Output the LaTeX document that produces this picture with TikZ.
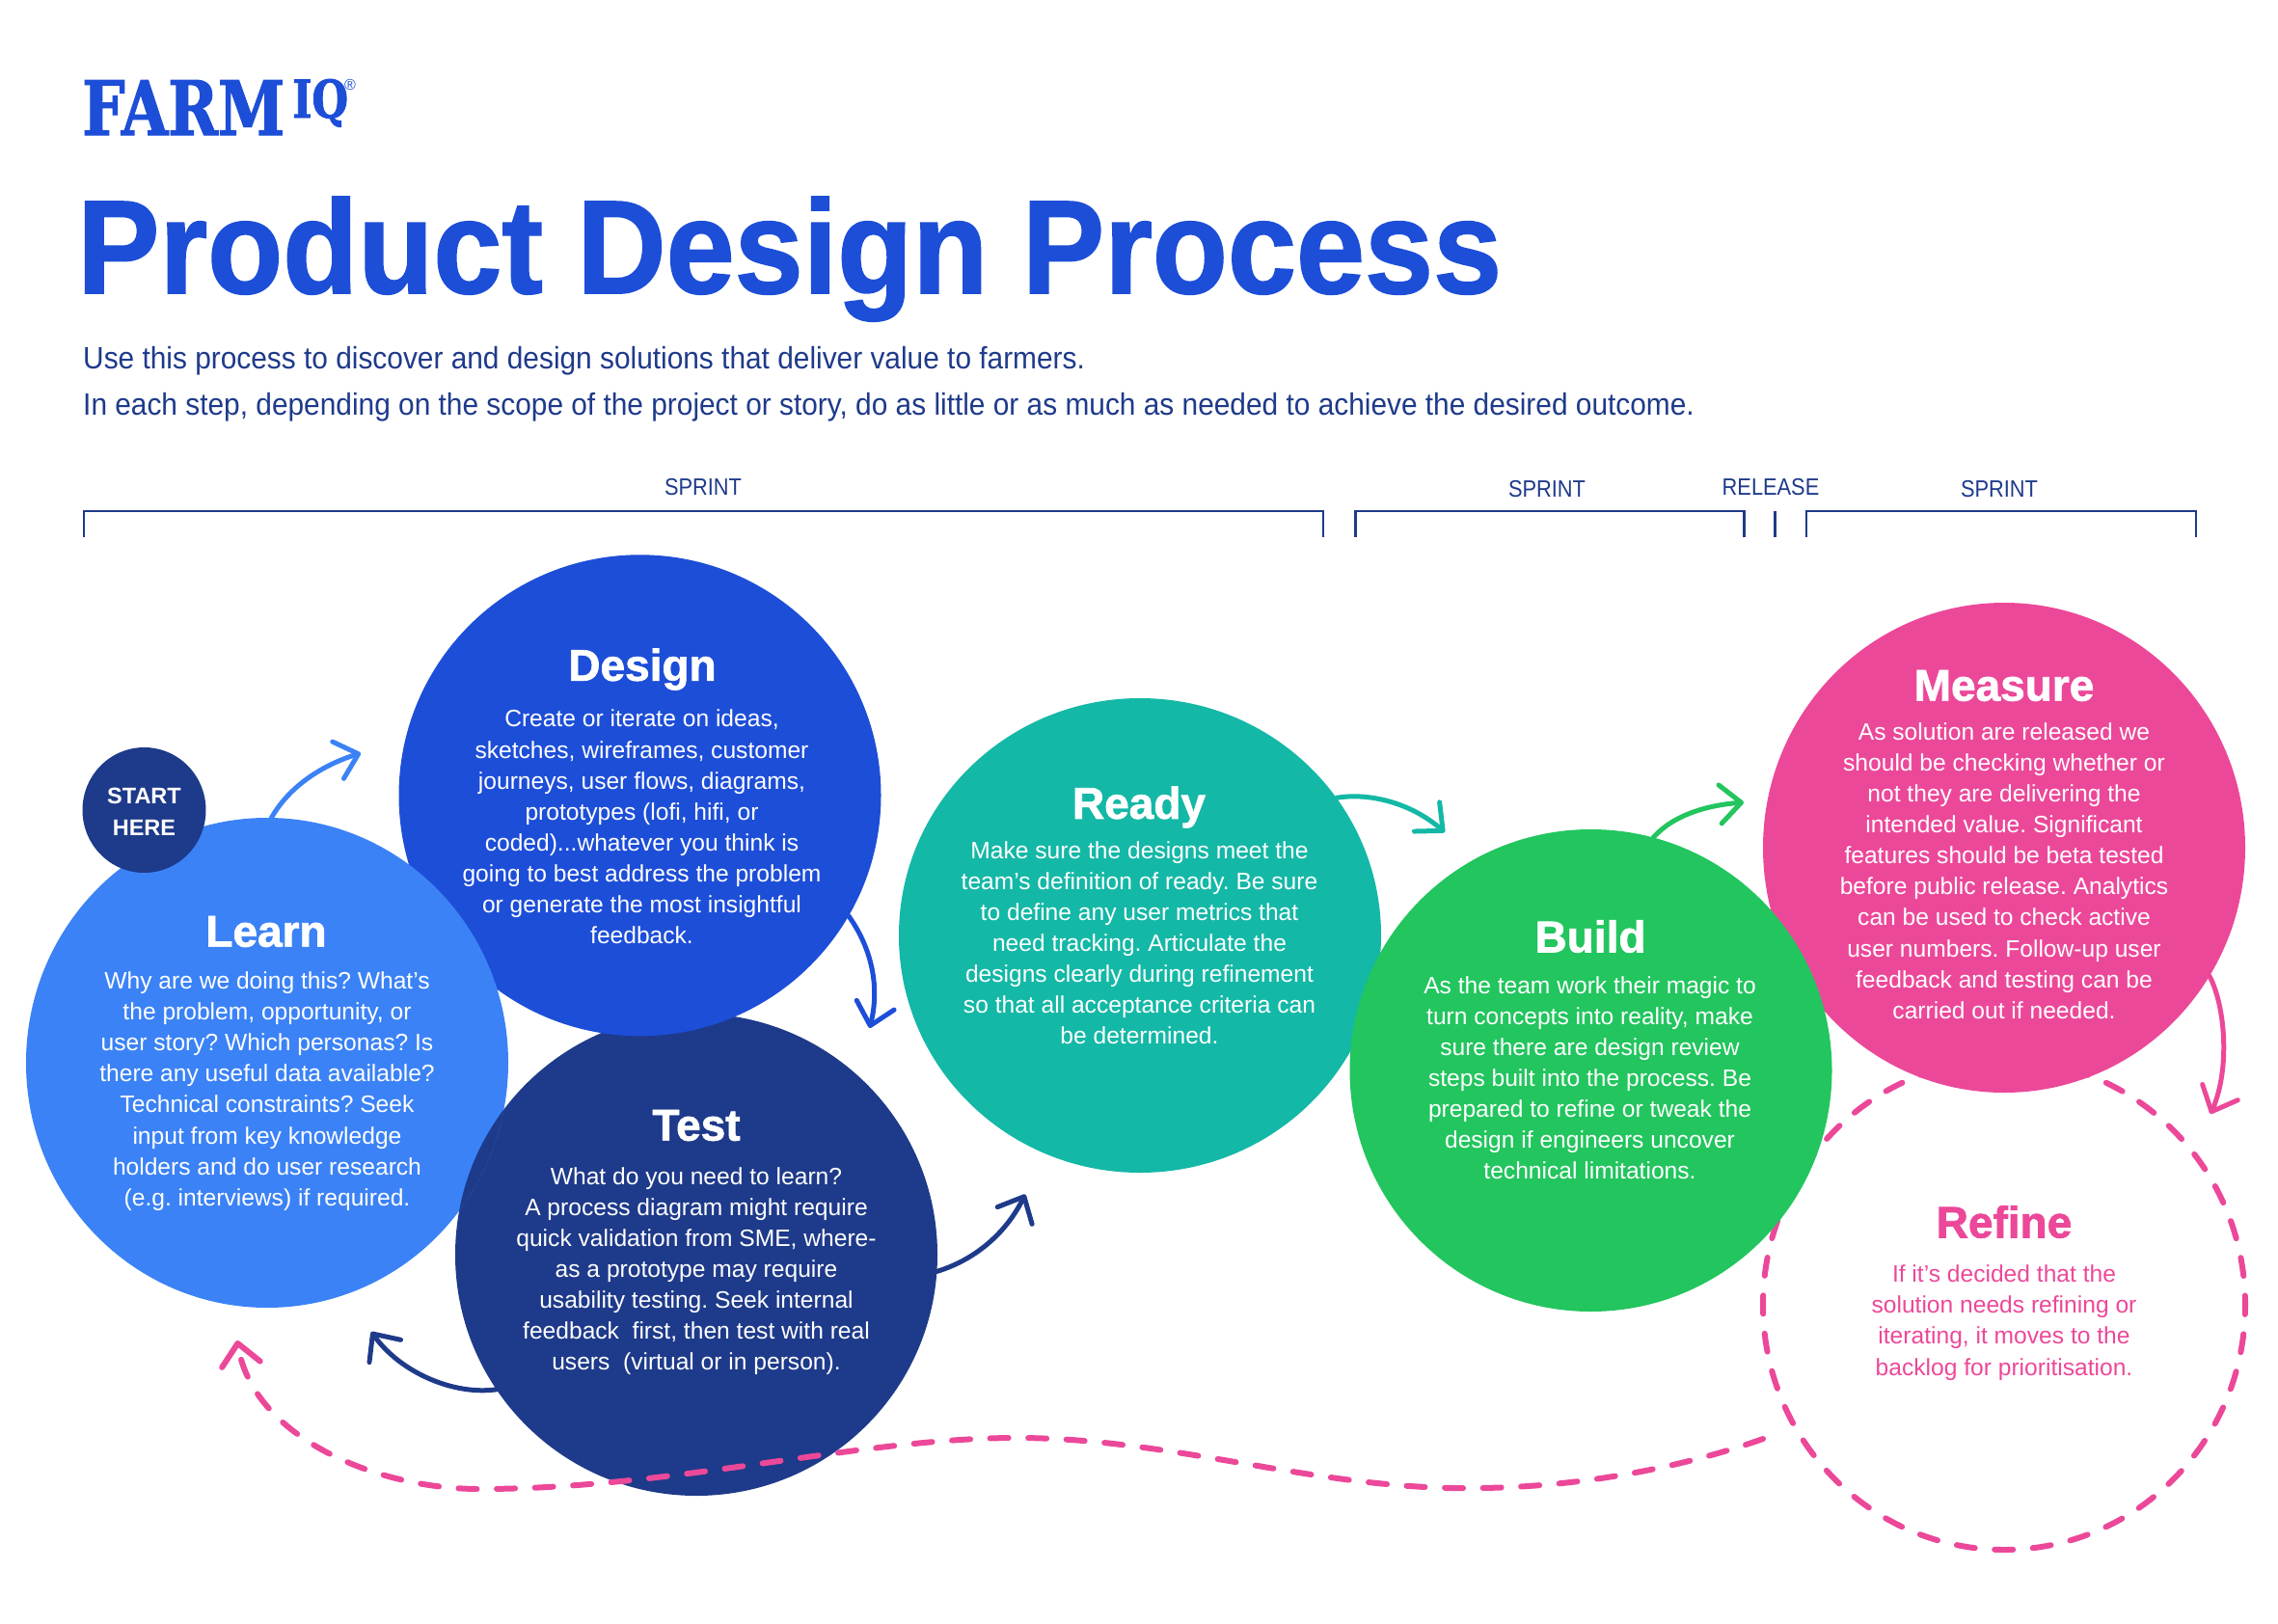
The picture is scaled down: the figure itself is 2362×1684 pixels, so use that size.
\documentclass[tikz,border=0pt]{standalone}
\usepackage{fontspec}
\usetikzlibrary{arrows.meta,shapes.geometric}
\setmainfont{Liberation Sans}
\newfontfamily\logofont[FakeStretch=0.8,FakeBold=1.5]{DejaVu Serif}
\newfontfamily\headfont[FakeBold=1.5]{Liberation Sans}
\newfontfamily\titlefont[FakeStretch=0.926,FakeBold=1.2]{Liberation Sans}
\newfontfamily\subfont[FakeStretch=0.933]{Liberation Sans}
\newfontfamily\capfont[FakeStretch=0.89]{Liberation Sans}
\definecolor{fblue}{HTML}{1D4ED8}
\definecolor{fsky}{HTML}{3B82F6}
\definecolor{fnavy}{HTML}{1E3A8A}
\definecolor{fteal}{HTML}{14B8A6}
\definecolor{fgreen}{HTML}{22C55E}
\definecolor{fpink}{HTML}{EC4899}
\tikzset{
  disc/.style={ellipse,minimum width=500pt,minimum height=#1,inner sep=0pt,outer sep=0pt},
  body/.style={align=center,inner sep=0pt,text=white,font=\frenchspacing\fontsize{24.6}{32.1}\selectfont},
  heading/.style={anchor=center,inner sep=0pt,text=white,font=\headfont\bfseries\fontsize{46}{50}\selectfont},
  barb/.style={-{Straight Barb[length=22pt,width=40pt,round]},line width=5pt,line cap=round},
  wave/.style={line width=6pt,line cap=round,draw=fpink,dash pattern=on 19pt off 20.58pt},
  spr/.style={line width=2.6pt,draw=fnavy},
  sprlabel/.style={inner sep=0pt,text=fnavy,font=\capfont\fontsize{24.5}{30}\selectfont},
  subline/.style={anchor=base west,inner sep=0pt,text=fnavy,font=\subfont\frenchspacing\fontsize{32}{40}\selectfont},
}
\begin{document}
\begin{tikzpicture}[x=1pt,y=-1pt]
\useasboundingbox (0,0) rectangle (2362,1684);
% header
\node[anchor=base west,inner sep=0pt,text=fblue,font=\logofont\bfseries\fontsize{78}{80}\selectfont] (farm) at (85,140) {FARM};
\node[anchor=base west,inner sep=0pt,text=fblue,font=\logofont\bfseries\fontsize{54}{56}\selectfont] (iq) at (303,122) {IQ};
\node[inner sep=0pt,text=fblue,font=\fontsize{16}{18}\selectfont] (reg) at (363,88) {®};
\node[anchor=base west,inner sep=0pt,text=fblue,font=\titlefont\bfseries\fontsize{138}{140}\selectfont] (title) at (80,304) {Product Design Process};
\node[subline] (sub1) at (86,382) {Use this process to discover and design solutions that deliver value to farmers.};
\node[subline] (sub2) at (86,430) {In each step, depending on the scope of the project or story, do as little or as much as needed to achieve the desired outcome.};
% sprint brackets
\draw[spr] (87,556.5) |- (1372,530) -- (1372,556.5);
\draw[spr] (1405.5,556.5) |- (1808.5,530) -- (1808.5,556.5);
\draw[spr] (1840.5,530) -- (1840.5,556.5);
\draw[spr] (1873,556.5) |- (2277,530) -- (2277,556.5);
\node[sprlabel] (s1) at (729,505) {SPRINT};
\node[sprlabel] (s2) at (1604,507) {SPRINT};
\node[sprlabel] (rel) at (1836,505) {RELEASE};
\node[sprlabel] (s3) at (2073,507) {SPRINT};
% refine outline, under the others
\node[disc=508pt,wave,dash phase=9.5pt] (refine) at (2078,1353) {};
% discs
\node[disc=500pt,fill=fnavy] (test) at (722,1301) {};
\node[disc=499pt,fill=fblue] (design) at (663.5,824.8) {};
\node[disc=508pt,fill=fsky] (learn) at (277,1102) {};
\begin{scope}
  \clip (277,1102) ellipse [x radius=250,y radius=254];
  \fill[fnavy] (722,1301) ellipse [x radius=250,y radius=250];
\end{scope}
\node[disc=492pt,fill=fteal] (ready) at (1182,970) {};
\node[disc=508pt,fill=fpink] (measure) at (2078,879) {};
\node[disc=500pt,fill=fgreen] (build) at (1649.5,1110) {};
\node[ellipse,minimum width=128pt,minimum height=130pt,inner sep=0pt,outer sep=0pt,fill=fnavy] (start) at (149.5,840) {};
\node[align=center,inner sep=0pt,text=white,font=\bfseries\fontsize{23.5}{33}\selectfont] (tstart) at (149.5,842) {START\\HERE};
% connectors
\coordinate (tipLD) at (374,781);
\coordinate (tipDT) at (901.7,1066);
\coordinate (tipTR) at (1063,1238.5);
\coordinate (tipTL) at (385,1381);
\coordinate (tipRB) at (1498,863);
\coordinate (tipBM) at (1808,832);
\coordinate (tipMR) at (2292,1155);
\coordinate (waveStart) at (1828,1492);
\coordinate (tipWave) at (246,1390);
\draw[barb,draw=fsky] (learn.89) .. controls (300,815) and (335,793) .. (tipLD);
\draw[barb,draw=fblue] (design.-30) .. controls (905,985) and (912,1025) .. (tipDT);
\draw[barb,draw=fnavy] (test.-4) .. controls (1015,1305) and (1045,1275) .. (tipTR);
\draw[barb,draw=fnavy] (test.214) .. controls (470,1447) and (415,1423) .. (tipTL);
\draw[barb,draw=fteal] (ready.35) .. controls (1415,822) and (1460,830) .. (tipRB);
\draw[barb,draw=fgreen] (build.75) .. controls (1735,845) and (1770,835) .. (tipBM);
\draw[barb,draw=fpink] (measure.-32) .. controls (2308,1045) and (2312,1110) .. (tipMR);
\draw[wave,-{Straight Barb[length=22pt,width=40pt,round]}] (waveStart)
  .. controls (1735,1525) and (1620,1545) .. (1506,1543)
  .. controls (1350,1540) and (1210,1491) .. (1054,1491)
  .. controls (890,1491) and (700,1544) .. (497,1544)
  .. controls (390,1544) and (262,1490) .. (tipWave);
% texts
\node[heading] (hlearn) at (276,966) {Learn};
\node[body] (tlearn) at (277,1131.5) {Why are we doing this? What’s\\the problem, opportunity, or\\user story? Which personas? Is\\there any useful data available?\\Technical constraints? Seek\\input from key knowledge\\holders and do user research\\(e.g. interviews) if required.};
\node[heading] (hdesign) at (666,694) {Design};
\node[body] (tdesign) at (665.5,857.5) {Create or iterate on ideas,\\sketches, wireframes, customer\\journeys, user flows, diagrams,\\prototypes (lofi, hifi, or\\coded)...whatever you think is\\going to best address the problem\\or generate the most insightful\\feedback.};
\node[heading] (htest) at (722,1167) {Test};
\node[body] (ttest) at (722,1318) {What do you need to learn?\\A process diagram might require\\quick validation from SME, where-\\as a prototype may require\\usability testing. Seek internal\\feedback\ \ first, then test with real\\users\ \ (virtual or in person).};
\node[heading] (hready) at (1181,837) {Ready};
\node[body] (tready) at (1181.5,977.5) {Make sure the designs meet the\\team’s definition of ready. Be sure\\to define any user metrics that\\need tracking. Articulate the\\designs clearly during refinement\\so that all acceptance criteria can\\be determined.};
\node[heading] (hbuild) at (1649,971) {Build};
\node[body] (tbuild) at (1648.5,1117.5) {As the team work their magic to\\turn concepts into reality, make\\sure there are design review\\steps built into the process. Be\\prepared to refine or tweak the\\design if engineers uncover\\technical limitations.};
\node[heading] (hmeasure) at (2078,711) {Measure};
\node[body] (tmeasure) at (2078,903) {As solution are released we\\should be checking whether or\\not they are delivering the\\intended value. Significant\\features should be beta tested\\before public release. Analytics\\can be used to check active\\user numbers. Follow-up user\\feedback and testing can be\\carried out if needed.};
\node[heading,text=fpink] (hrefine) at (2078,1267) {Refine};
\node[body,text=fpink] (trefine) at (2078,1371.5) {If it’s decided that the\\solution needs refining or\\iterating, it moves to the\\backlog for prioritisation.};
\end{tikzpicture}
\end{document}
